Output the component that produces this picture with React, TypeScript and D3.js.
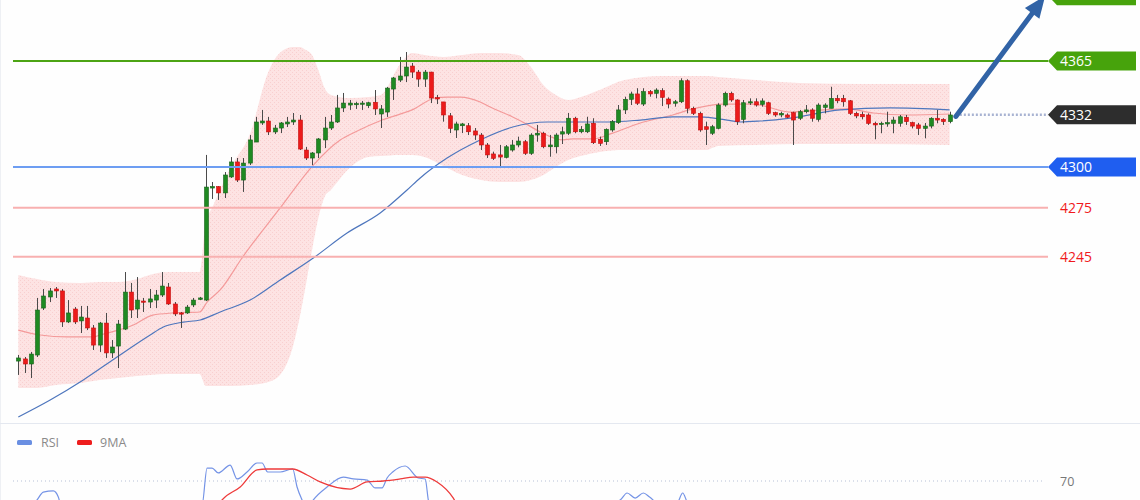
import React from 'react';
import * as d3 from 'd3';

// ---------- Candles (bar 0..149) ----------
const opens = [
  4181.0, 4182.3, 4179.2, 4184.7, 4213.5, 4220.3, 4225.2, 4224.0, 4205.0, 4212.9,
  4205.6, 4207.4, 4201.3, 4190.8, 4204.3, 4186.0, 4190.2, 4200.6, 4223.3, 4212.9,
  4217.8, 4217.2, 4218.4, 4221.5, 4226.4, 4216.0, 4210.5, 4210.5, 4215.4, 4218.8,
  4218.4, 4287.1, 4288.0, 4284.1, 4293.9, 4303.1, 4292.0, 4302.4, 4315.3, 4327.0,
  4328.2, 4321.5, 4323.9, 4326.4, 4327.6, 4328.8, 4310.4, 4305.5, 4308.6, 4316.6,
  4323.9, 4327.6, 4336.2, 4338.0, 4338.6, 4338.6, 4337.6, 4339.7, 4332.5, 4333.7,
  4347.8, 4353.3, 4355.8, 4361.9, 4358.2, 4353.9, 4358.2, 4342.5, 4339.9, 4331.4,
  4322.7, 4325.3, 4325.3, 4322.1, 4319.6, 4313.5, 4308.0, 4307.4, 4305.9, 4310.4,
  4313.5, 4315.5, 4308.4, 4319.6, 4320.7, 4312.4, 4312.4, 4320.2, 4320.7, 4329.9,
  4321.6, 4321.6, 4326.8, 4317.0, 4315.5, 4322.7, 4327.2, 4335.0, 4341.5, 4344.8,
  4338.6, 4346.2, 4345.2, 4346.8, 4341.7, 4339.1, 4340.0, 4352.9, 4336.0, 4332.9,
  4324.7, 4320.7, 4323.7, 4338.0, 4345.2, 4341.1, 4329.2, 4339.4, 4340.0, 4338.4,
  4339.4, 4333.3, 4331.9, 4331.9, 4333.3, 4329.9, 4333.9, 4335.0, 4329.2, 4336.6,
  4336.0, 4342.1, 4342.1, 4340.6, 4332.9, 4332.3, 4331.9, 4326.8, 4326.2, 4326.4,
  4326.8, 4326.8, 4330.5, 4327.2, 4325.8, 4323.7, 4325.1, 4329.9, 4329.2, 4327.8,
];
const closes = [
  4182.9, 4179.2, 4185.3, 4212.3, 4220.9, 4224.0, 4224.0, 4205.0, 4210.5, 4205.0,
  4208.0, 4201.3, 4190.8, 4204.3, 4186.0, 4189.6, 4203.7, 4223.3, 4212.3, 4218.4,
  4217.2, 4219.1, 4221.5, 4227.0, 4216.0, 4209.9, 4209.9, 4214.1, 4218.4, 4219.7,
  4287.7, 4288.0, 4284.1, 4295.1, 4303.1, 4292.0, 4302.4, 4316.6, 4327.6, 4328.2,
  4321.5, 4323.9, 4327.0, 4327.6, 4328.8, 4311.0, 4305.5, 4308.6, 4317.2, 4323.9,
  4327.6, 4336.2, 4339.2, 4339.2, 4338.9, 4339.2, 4339.4, 4335.6, 4335.6, 4348.4,
  4354.6, 4355.8, 4361.3, 4358.2, 4353.9, 4358.2, 4342.3, 4341.7, 4331.9, 4323.7,
  4326.4, 4326.4, 4321.6, 4319.6, 4313.5, 4307.4, 4305.3, 4306.1, 4312.4, 4313.5,
  4315.9, 4308.4, 4319.6, 4320.7, 4312.4, 4313.5, 4319.6, 4321.6, 4329.9, 4321.6,
  4323.1, 4326.4, 4314.9, 4314.5, 4323.1, 4327.8, 4335.0, 4341.5, 4344.8, 4339.1,
  4346.2, 4344.8, 4347.2, 4342.7, 4338.6, 4340.0, 4352.9, 4336.0, 4332.9, 4322.7,
  4323.1, 4324.7, 4338.0, 4345.2, 4341.1, 4327.8, 4339.4, 4340.0, 4338.0, 4340.5,
  4332.9, 4331.9, 4332.9, 4330.5, 4328.8, 4333.9, 4335.0, 4329.9, 4338.0, 4338.0,
  4342.1, 4340.6, 4340.0, 4332.9, 4331.3, 4330.8, 4326.8, 4325.8, 4326.8, 4327.2,
  4328.8, 4330.8, 4327.8, 4325.1, 4323.7, 4325.1, 4329.9, 4328.8, 4327.8, 4331.9,
];
const highs = [
  4184.7, 4183.5, 4186.6, 4219.7, 4225.2, 4225.8, 4226.4, 4225.2, 4218.4, 4214.1,
  4214.8, 4214.8, 4203.1, 4205.0, 4210.5, 4193.9, 4206.2, 4235.6, 4228.9, 4232.5,
  4219.7, 4225.2, 4224.6, 4235.6, 4228.9, 4217.2, 4211.1, 4215.4, 4219.7, 4220.3,
  4307.4, 4290.8, 4288.3, 4296.9, 4306.1, 4305.5, 4305.5, 4319.6, 4330.7, 4335.0,
  4330.7, 4325.8, 4327.6, 4330.7, 4333.1, 4331.9, 4312.3, 4309.2, 4317.8, 4330.7,
  4331.9, 4344.2, 4345.4, 4341.1, 4340.0, 4340.5, 4340.0, 4347.2, 4338.0, 4349.1,
  4355.2, 4367.5, 4370.5, 4363.8, 4359.5, 4359.5, 4358.4, 4344.2, 4339.9, 4333.1,
  4327.8, 4327.0, 4327.0, 4323.9, 4320.8, 4314.7, 4309.4, 4313.5, 4313.5, 4316.6,
  4318.6, 4316.6, 4320.7, 4325.8, 4321.6, 4319.6, 4320.7, 4324.7, 4333.1, 4330.8,
  4325.1, 4330.8, 4329.9, 4318.6, 4323.7, 4328.8, 4338.0, 4343.1, 4346.2, 4348.3,
  4348.3, 4347.2, 4348.3, 4348.3, 4342.7, 4341.1, 4354.4, 4353.8, 4337.0, 4333.9,
  4327.8, 4325.8, 4339.1, 4346.2, 4346.2, 4341.5, 4341.1, 4342.1, 4342.1, 4342.1,
  4340.0, 4333.9, 4333.9, 4332.9, 4333.9, 4335.0, 4338.0, 4336.0, 4339.1, 4339.1,
  4349.2, 4344.2, 4344.2, 4341.1, 4333.9, 4333.9, 4332.9, 4327.8, 4327.8, 4333.9,
  4330.8, 4331.9, 4331.9, 4327.8, 4327.0, 4327.0, 4330.5, 4335.0, 4329.9, 4333.9,
];
const lows = [
  4172.5, 4173.7, 4170.6, 4183.5, 4212.3, 4217.2, 4219.7, 4201.9, 4204.3, 4203.7,
  4198.2, 4200.0, 4187.8, 4186.6, 4182.9, 4182.9, 4176.7, 4200.0, 4207.4, 4207.4,
  4211.1, 4213.5, 4213.5, 4220.3, 4215.4, 4208.6, 4201.3, 4209.9, 4214.1, 4218.4,
  4217.8, 4280.4, 4279.8, 4281.0, 4293.3, 4290.8, 4284.7, 4301.2, 4315.3, 4325.8,
  4319.6, 4320.2, 4320.8, 4324.5, 4325.8, 4310.4, 4304.3, 4301.2, 4305.5, 4311.6,
  4322.7, 4327.0, 4333.7, 4335.0, 4335.6, 4335.0, 4336.2, 4331.9, 4323.9, 4330.7,
  4341.1, 4352.1, 4352.1, 4354.6, 4349.1, 4349.1, 4339.2, 4338.6, 4327.8, 4320.8,
  4317.8, 4320.8, 4319.6, 4316.6, 4310.4, 4305.5, 4304.3, 4300.2, 4305.3, 4309.4,
  4312.1, 4307.4, 4307.4, 4315.5, 4311.5, 4306.3, 4308.4, 4314.1, 4319.6, 4320.7,
  4320.7, 4320.8, 4314.1, 4312.9, 4313.5, 4321.6, 4326.4, 4332.5, 4338.0, 4338.0,
  4337.4, 4343.1, 4342.1, 4337.4, 4336.0, 4337.0, 4339.2, 4332.9, 4331.9, 4321.6,
  4313.5, 4319.6, 4323.1, 4337.0, 4340.0, 4325.8, 4326.8, 4338.0, 4337.0, 4337.0,
  4331.9, 4330.8, 4330.5, 4329.9, 4313.5, 4328.8, 4332.9, 4327.8, 4327.8, 4332.9,
  4336.0, 4339.1, 4337.0, 4331.9, 4329.9, 4329.2, 4325.8, 4317.0, 4320.7, 4324.7,
  4320.7, 4324.7, 4325.8, 4323.7, 4319.6, 4317.6, 4323.7, 4326.8, 4325.8, 4326.8,
];

// ---------- Bollinger band (sampled at bars) ----------
const bandBars = [0, 3, 6, 10, 13, 16, 19, 21, 24, 29, 30, 31, 34, 37, 40, 42, 44, 45, 46, 47, 48, 49, 50, 53, 56, 58, 61, 63, 65, 68, 71, 74, 77, 80, 82, 84, 86, 88, 90, 93, 97, 103, 110, 112, 118, 125, 135, 149];
const upperBand = [4233.8, 4231.3, 4229.5, 4228.9, 4229.5, 4229.5, 4231.3, 4233.8, 4235.6, 4235.6, 4266.3, 4274.9, 4300.0, 4319.6, 4358.3, 4370.5, 4373.6, 4373.6, 4371.7, 4368.7, 4359.5, 4348.4, 4344.2, 4342.3, 4342.9, 4344.2, 4362.5, 4369.9, 4368.7, 4367.5, 4368.7, 4369.9, 4369.9, 4368.7, 4361.3, 4350.3, 4344.2, 4341.1, 4342.9, 4347.2, 4353.3, 4355.8, 4355.8, 4355.2, 4353.3, 4351.5, 4350.9, 4350.9];
const lowerBand = [4164.5, 4164.5, 4166.3, 4167.5, 4169.4, 4170.6, 4171.8, 4172.5, 4173.1, 4173.1, 4165.7, 4165.7, 4165.7, 4166.3, 4168.2, 4173.1, 4190.9, 4207.4, 4227.6, 4249.1, 4268.7, 4281.6, 4285.9, 4299.4, 4306.1, 4306.7, 4307.4, 4307.4, 4306.1, 4300.6, 4295.1, 4292.0, 4290.8, 4290.8, 4292.0, 4295.1, 4300.0, 4304.3, 4306.7, 4309.2, 4310.4, 4310.4, 4310.4, 4312.9, 4313.5, 4314.1, 4314.1, 4313.5];

// middle band (20 MA) and slow MA: [bar, price]
const middleBand: [number, number][] = [
  [0, 4200.0], [3.5, 4197.0], [7.8, 4195.8], [12, 4195.8], [13.1, 4197.0], [18.4, 4203.1], [21.5, 4209.2], [24.8, 4210.5], [29, 4211.1], [30.2, 4217.2], [32.3, 4224.6], [35.9, 4244.8], [41.9, 4274.9], [47.2, 4301.2], [51.5, 4316.6], [53.9, 4321.5], [58.2, 4328.8], [63, 4335.0], [66.7, 4342.3], [68.6, 4342.9], [70.7, 4342.9], [73.9, 4339.9], [75.5, 4336.8], [79.1, 4330.7], [80.7, 4327.6], [83.5, 4321.5], [87.1, 4316.6], [88.7, 4317.2], [91.9, 4317.2], [95.1, 4320.8], [99.5, 4327.0], [104.7, 4331.9], [107.9, 4335.6], [112.7, 4338.6], [117.5, 4338.6], [123.5, 4333.7], [128.7, 4335.0], [132.6, 4335.6], [136.8, 4333.1], [142.2, 4331.9], [149, 4332.5],
];
const slowMA: [number, number][] = [
  [0, 4146.7], [5.1, 4157.1], [10.4, 4169.4], [15.8, 4183.5], [21.1, 4197.0], [23.2, 4201.9], [26.4, 4204.9], [29.1, 4206.2], [32.3, 4211.1], [37.1, 4218.4], [41.9, 4230.7], [47.2, 4244.2], [52.6, 4259.5], [57.9, 4271.8], [62.2, 4285.9], [64.3, 4293.3], [68.6, 4305.5], [73.9, 4316.6], [79.1, 4324.5], [84.6, 4327.6], [94.2, 4327.6], [99.5, 4328.8], [104.7, 4330.7], [109, 4330.7], [113.4, 4328.8], [115.5, 4327.6], [118.7, 4328.2], [123.5, 4330.0], [131.5, 4335.0], [139.5, 4336.2], [149, 4335.0],
];

// ---------- RSI panel ----------
const rsiValues: [number, number][] = [
  [0, 40], [3, 54.2], [4, 60.8], [5.6, 61.7], [6.4, 56.7], [7, 46], [10, 40], [15, 35], [20, 44], [25, 47], [29.4, 50], [30.2, 80.8], [31, 80.8], [32, 76.7], [33.9, 83.3], [35, 71.7], [36.6, 77.5], [38.2, 85], [39, 85], [39.9, 77.5], [41.9, 77.5], [43.9, 80], [44.6, 65], [45.4, 54.2], [46.2, 46], [47.2, 54.2], [49.4, 65], [52, 73.3], [53.6, 71.7], [55.8, 70.8], [57.1, 64.2], [58.2, 64.2], [59, 72.5], [59.9, 77.5], [61.9, 82.5], [64, 72.5], [65.1, 71.7], [65.6, 54.2], [66.3, 42], [70, 38], [80, 40], [90, 45], [96.3, 54.2], [97.4, 60], [98.7, 55.8], [100, 60], [101, 56.7], [102.7, 50], [105.4, 51.7], [106.3, 60], [107.1, 51.7], [110, 44], [120, 48], [130, 46], [140, 45], [149, 47],
];
const rsiMA: [number, number][] = [
  [0, 45], [10, 40], [20, 42], [28, 46], [31.5, 46], [32.6, 54.2], [35.5, 65], [38.2, 79.2], [39.8, 80], [43.9, 80], [46.2, 75], [48.3, 69.2], [53.1, 63.3], [55.8, 69.2], [58.4, 70], [61.1, 71.7], [63.2, 73.3], [65.1, 73.3], [67, 69.2], [69.6, 55.8], [70.7, 46], [80, 40], [100, 50], [110, 48], [130, 45], [149, 45],
];
const rsiLevel = 70;

// ---------- Levels & annotation ----------
const levelPrices = [4405, 4365, 4332, 4300, 4275, 4245];
const levelLabels = ['', '4365', '4332', '4300', '4275', '4245'];
const levelKinds = ['boxGreen', 'boxGreen', 'boxDark', 'boxBlue', 'textRed', 'textRed'];
const arrowFrom: [number, number] = [150, 4331];
const arrowTo: [number, number] = [164.3, 4405];

const W = 1140;
const H = 500;
const FONT = "'Open Sans', 'Liberation Sans', Arial, sans-serif";

export default function App() {
  const x = d3.scaleLinear().domain([0, 149]).range([18.3, 949.6]);
  const y = d3.scaleLinear().domain([4300, 4365]).range([167, 61]);
  const yr = d3.scaleLinear().domain([0, 100]).range([565, 445]);

  const bandData = bandBars.map((b, i) => ({ b, u: upperBand[i], l: lowerBand[i] }));
  const bandArea = d3
    .area<{ b: number; u: number; l: number }>()
    .x((d) => x(d.b))
    .y0((d) => y(d.l))
    .y1((d) => y(d.u))
    .curve(d3.curveMonotoneX)(bandData) || '';

  const priceLine = d3
    .line<[number, number]>()
    .x((d) => x(d[0]))
    .y((d) => y(d[1]))
    .curve(d3.curveMonotoneX);
  const rsiLine = d3
    .line<[number, number]>()
    .x((d) => x(d[0]))
    .y((d) => yr(d[1]))
    .curve(d3.curveMonotoneX);

  const lineStart = 13;
  const boxLeft = 1048;
  const boxRight = 1136;
  const boxHalf = 9.5;
  const notch = 9;

  const levelColors: Record<string, string> = {
    boxGreen: '#47a30c',
    boxDark: '#2d2d2d',
    boxBlue: '#1f5ef0',
  };

  // arrow geometry
  const ax1 = x(arrowFrom[0]);
  const ay1 = y(arrowFrom[1]);
  const ax2 = x(arrowTo[0]);
  const ay2 = y(arrowTo[1]);
  const len = Math.hypot(ax2 - ax1, ay2 - ay1);
  const ux = (ax2 - ax1) / len;
  const uy = (ay2 - ay1) / len;
  const headLen = 22;
  const headHalf = 9;
  const bx = ax2 - ux * headLen;
  const by = ay2 - uy * headLen;
  const head = `M${ax2},${ay2} L${bx + -uy * headHalf},${by + ux * headHalf} L${bx - -uy * headHalf},${by - ux * headHalf} Z`;

  return (
    <svg
      width={W}
      height={H}
      viewBox={`0 0 ${W} ${H}`}
      style={{ position: 'absolute', left: 0, top: 0, background: '#ffffff' }}
    >
      <defs>
        <pattern id="bbdots" width="4" height="4" patternUnits="userSpaceOnUse">
          <rect width="4" height="4" fill="#fde3e3" />
          <rect x="0" y="0" width="1" height="1" fill="#f8cfcf" />
          <rect x="2" y="2" width="1" height="1" fill="#f8cfcf" />
        </pattern>
      </defs>
      <rect x={0} y={0} width={W} height={H} fill="#fefefe" />
      <line x1={0.5} x2={0.5} y1={0} y2={H} stroke="#eef0f4" />

      {/* Bollinger band */}
      <path d={bandArea} fill="url(#bbdots)" />
      <path d={priceLine(middleBand) || ''} fill="none" stroke="#f49a9a" strokeWidth={1.2} />
      <path d={priceLine(slowMA) || ''} fill="none" stroke="#4e76bd" strokeWidth={1.2} />

      {/* Candles */}
      <g>
        {opens.map((o, i) => {
          const c = closes[i];
          const up = c >= o;
          const cx = Math.round(x(i));
          const top = y(Math.max(o, c));
          const bot = y(Math.min(o, c));
          return (
            <g key={i}>
              <line
                x1={cx + 0.5}
                x2={cx + 0.5}
                y1={y(highs[i])}
                y2={y(lows[i])}
                stroke="#4a4a4a"
                strokeWidth={1}
              />
              <rect
                x={cx - 1.5}
                y={top}
                width={4}
                height={Math.max(1.2, bot - top)}
                fill={up ? '#1f8a22' : '#ec1b1b'}
                stroke={up ? '#17621a' : '#c40d0d'}
                strokeWidth={0.6}
              />
            </g>
          );
        })}
      </g>

      {/* Levels */}
      {levelPrices.map((p, i) => {
        const ly = y(p);
        const kind = levelKinds[i];
        const label = levelLabels[i];
        if (kind === 'textRed') {
          return (
            <g key={i}>
              <line x1={lineStart} x2={boxLeft} y1={ly} y2={ly} stroke="#f8b0b0" strokeWidth={2} />
              <text x={1060} y={ly + 5} fontSize={14} fontFamily={FONT} fill="#f0191c">
                {label}
              </text>
            </g>
          );
        }
        const col = levelColors[kind];
        const box = `M${boxLeft},${ly} L${boxLeft + notch},${ly - boxHalf} L${boxRight},${ly - boxHalf} L${boxRight},${ly + boxHalf} L${boxLeft + notch},${ly + boxHalf} Z`;
        return (
          <g key={i}>
            {kind === 'boxGreen' && (
              <line x1={lineStart} x2={boxLeft} y1={ly} y2={ly} stroke="#4ca414" strokeWidth={2} />
            )}
            {kind === 'boxBlue' && (
              <line x1={lineStart} x2={boxLeft} y1={ly} y2={ly} stroke="#6d9df2" strokeWidth={2} />
            )}
            {kind === 'boxDark' && (
              <line
                x1={x(arrowFrom[0])}
                x2={boxLeft}
                y1={ly}
                y2={ly}
                stroke="#a8b3d2"
                strokeWidth={2.5}
                strokeDasharray="2,2"
              />
            )}
            <path d={box} fill={col} />
            {label && (
              <text x={1060} y={ly + 5} fontSize={14} fontFamily={FONT} fill="#ffffff">
                {label}
              </text>
            )}
          </g>
        );
      })}

      {/* Arrow */}
      <line x1={ax1} y1={ay1} x2={bx} y2={by} stroke="#3163a6" strokeWidth={5} strokeLinecap="round" />
      <path d={head} fill="#3163a6" />

      {/* RSI panel */}
      <line x1={0} x2={W} y1={423.5} y2={423.5} stroke="#e4e8f0" strokeWidth={1} />
      <rect x={17} y={440} width={15} height={5} rx={1.5} fill="#6a8fe2" />
      <text x={41} y={447} fontSize={12.5} fontFamily={FONT} fill="#8a8a8a">
        RSI
      </text>
      <rect x={77} y={440} width={15} height={5} rx={1.5} fill="#ee1d1d" />
      <text x={100} y={447} fontSize={12.5} fontFamily={FONT} fill="#8a8a8a">
        9MA
      </text>
      <line
        x1={lineStart}
        x2={1045}
        y1={yr(rsiLevel)}
        y2={yr(rsiLevel)}
        stroke="#b6c0d6"
        strokeWidth={1}
        strokeDasharray="1,3"
      />
      <text x={1060} y={yr(rsiLevel) + 4.5} fontSize={12.5} fontFamily={FONT} fill="#777777">
        {String(rsiLevel)}
      </text>
      <path d={rsiLine(rsiValues) || ''} fill="none" stroke="#7493e6" strokeWidth={1.2} />
      <path d={rsiLine(rsiMA) || ''} fill="none" stroke="#ee3a3a" strokeWidth={1.3} />
    </svg>
  );
}
